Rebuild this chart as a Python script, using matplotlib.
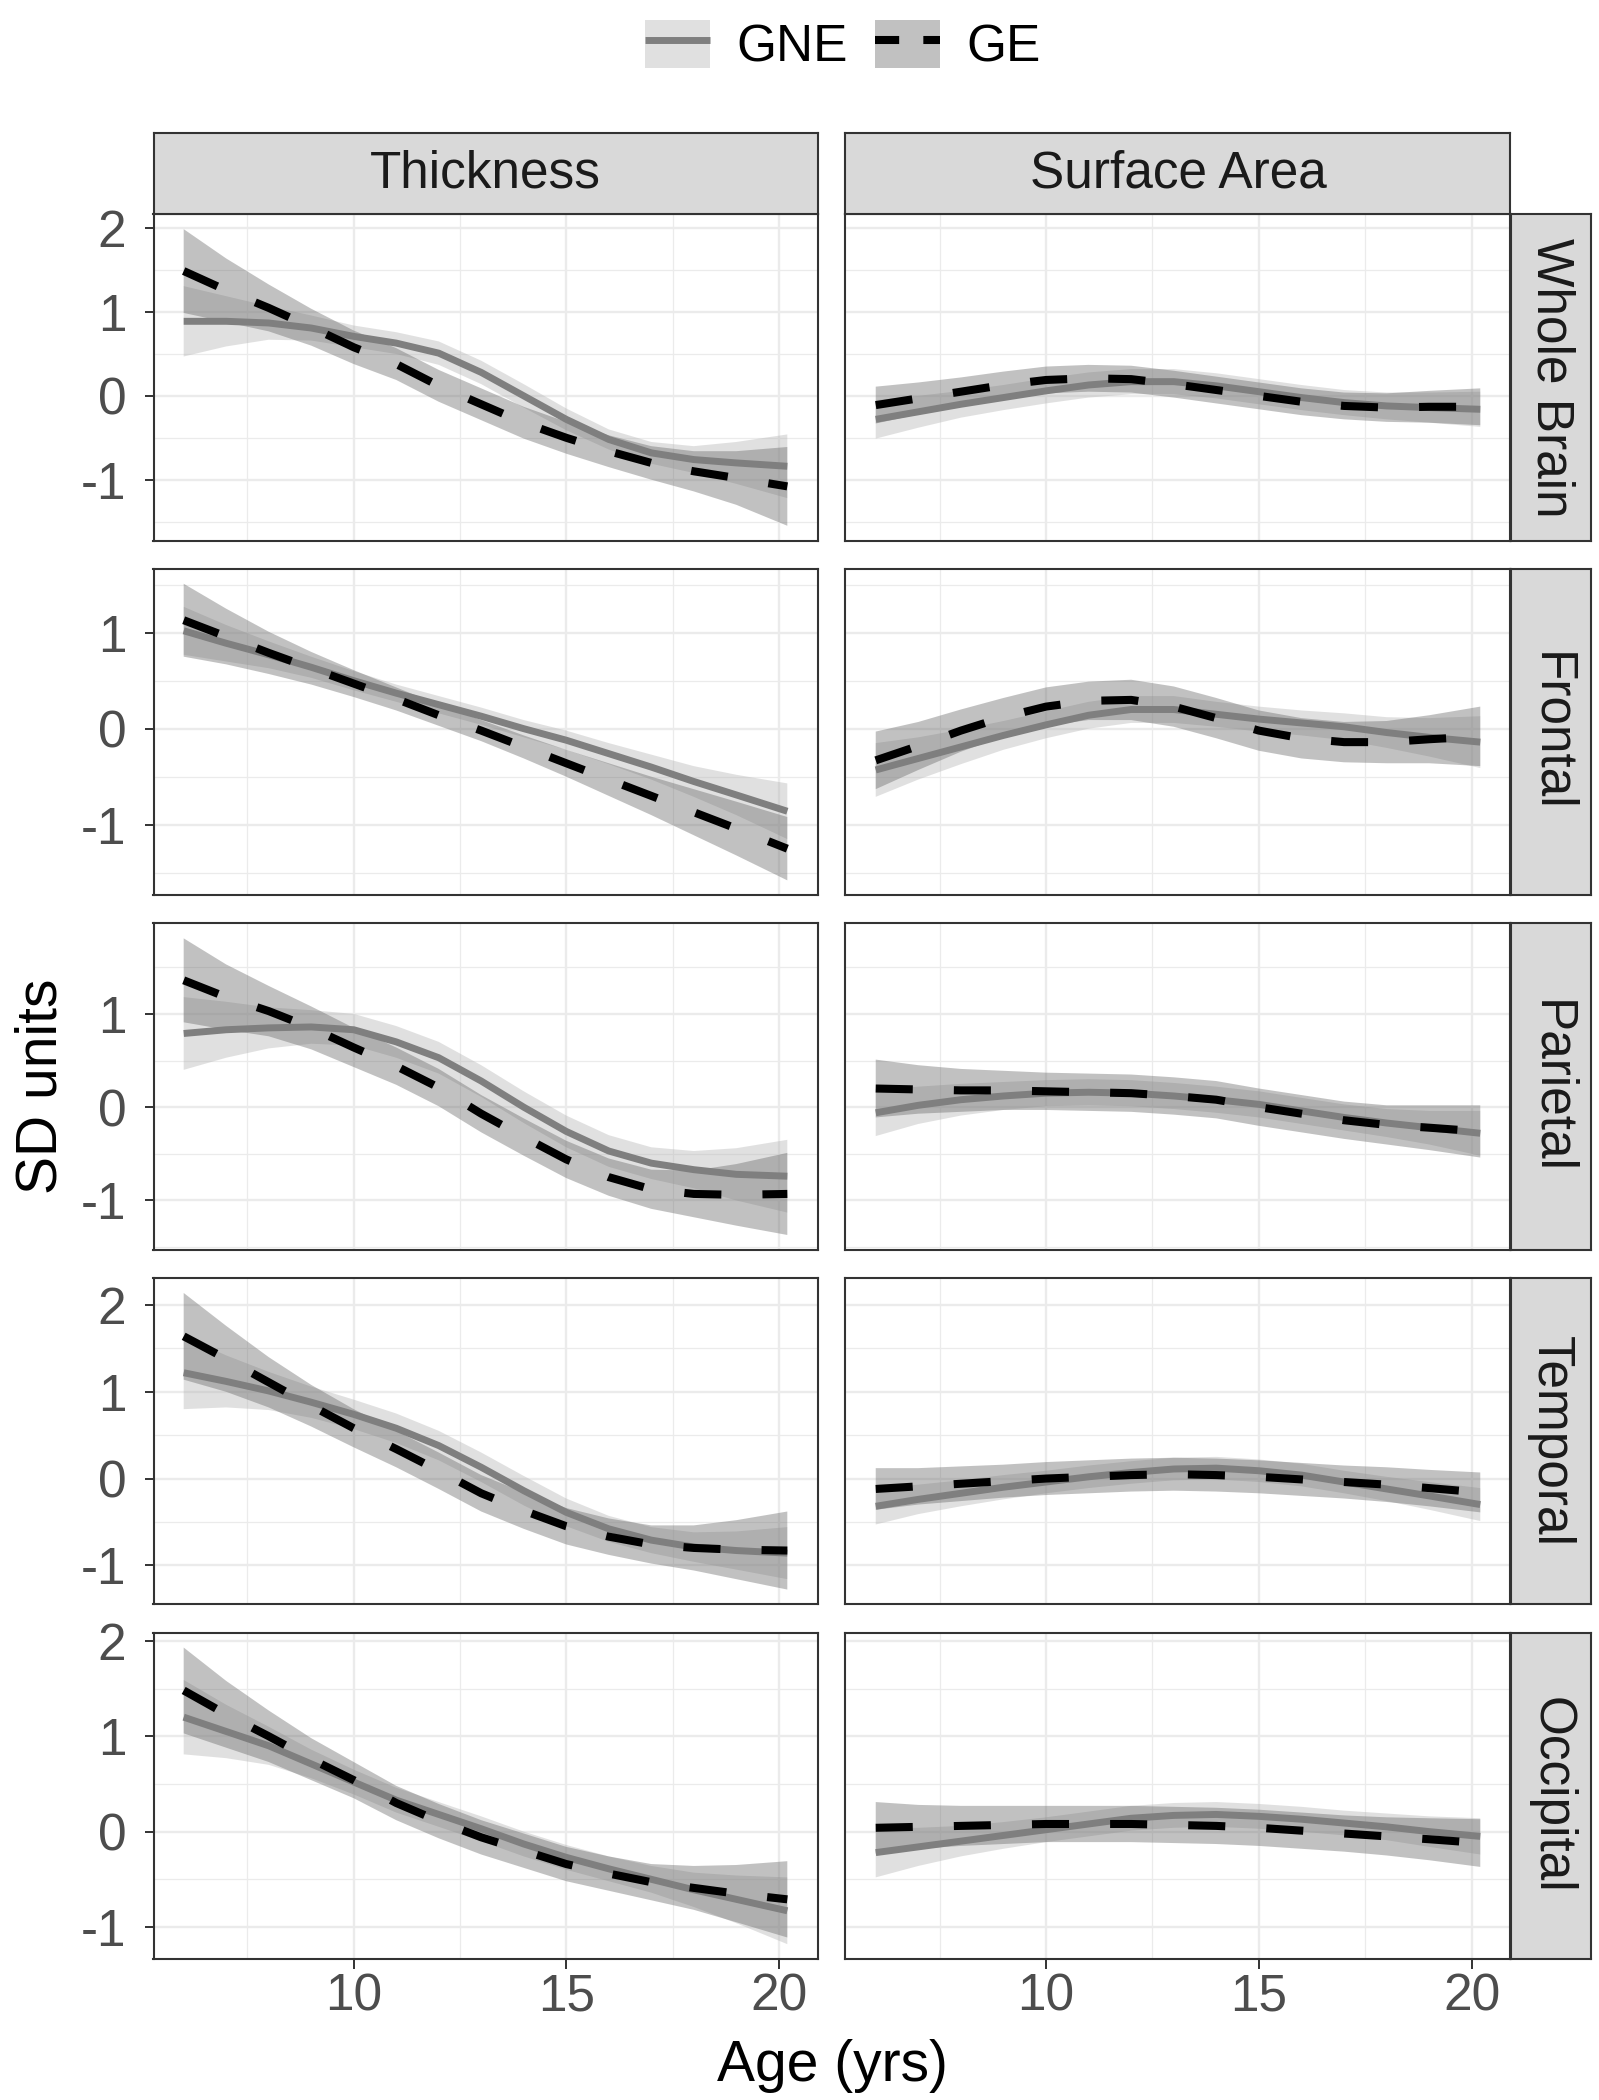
import matplotlib
matplotlib.use("Agg")
import matplotlib.pyplot as plt
from matplotlib.lines import Line2D
from matplotlib.patches import Patch
from matplotlib.ticker import MultipleLocator

plt.rcParams["font.family"] = ["Liberation Sans", "DejaVu Sans"]
plt.rcParams["axes.unicode_minus"] = False

# ── Data: smoothed trajectories (fit) and CI half-widths ──────────────────────
AGES = [6, 7, 8, 9, 10, 11, 12, 13, 14, 15, 16, 17, 18, 19, 20.2]
REGIONS = ["Whole Brain", "Frontal", "Parietal", "Temporal", "Occipital"]
MEASURES = ["Thickness", "Surface Area"]
GROUPS = ["GNE", "GE"]

wb_thk_gne_fit = [0.89, 0.89, 0.87, 0.81, 0.71, 0.63, 0.51, 0.28, 0.0, -0.28, -0.52, -0.68, -0.76, -0.80, -0.84]
wb_thk_gne_ci  = [0.42, 0.30, 0.20, 0.15, 0.13, 0.13, 0.14, 0.14, 0.14, 0.13, 0.12, 0.13, 0.16, 0.25, 0.38]
wb_thk_ge_fit  = [1.49, 1.26, 1.05, 0.82, 0.58, 0.38, 0.12, -0.10, -0.32, -0.50, -0.66, -0.80, -0.90, -0.98, -1.08]
wb_thk_ge_ci   = [0.50, 0.38, 0.28, 0.22, 0.20, 0.19, 0.19, 0.19, 0.19, 0.19, 0.19, 0.20, 0.24, 0.32, 0.47]

wb_sa_gne_fit = [-0.28, -0.19, -0.10, -0.02, 0.06, 0.13, 0.17, 0.17, 0.12, 0.05, -0.02, -0.08, -0.12, -0.14, -0.16]
wb_sa_gne_ci  = [0.23, 0.19, 0.16, 0.15, 0.15, 0.15, 0.15, 0.15, 0.15, 0.15, 0.15, 0.15, 0.16, 0.18, 0.21]
wb_sa_ge_fit  = [-0.11, -0.03, 0.05, 0.13, 0.19, 0.21, 0.20, 0.14, 0.07, 0.0, -0.07, -0.12, -0.14, -0.13, -0.13]
wb_sa_ge_ci   = [0.22, 0.19, 0.17, 0.16, 0.16, 0.16, 0.16, 0.16, 0.16, 0.16, 0.16, 0.16, 0.17, 0.19, 0.22]

fr_thk_gne_fit = [1.02, 0.89, 0.77, 0.64, 0.50, 0.37, 0.25, 0.13, 0.0, -0.12, -0.26, -0.40, -0.55, -0.69, -0.86]
fr_thk_gne_ci  = [0.25, 0.19, 0.14, 0.11, 0.10, 0.09, 0.09, 0.09, 0.09, 0.10, 0.11, 0.13, 0.16, 0.21, 0.29]
fr_thk_ge_fit  = [1.13, 0.96, 0.79, 0.63, 0.47, 0.31, 0.14, -0.02, -0.19, -0.36, -0.53, -0.70, -0.87, -1.04, -1.25]
fr_thk_ge_ci   = [0.38, 0.29, 0.22, 0.17, 0.14, 0.12, 0.11, 0.11, 0.12, 0.14, 0.17, 0.20, 0.24, 0.28, 0.33]

fr_sa_gne_fit = [-0.43, -0.31, -0.19, -0.07, 0.04, 0.14, 0.20, 0.20, 0.15, 0.10, 0.06, 0.02, -0.04, -0.09, -0.14]
fr_sa_gne_ci  = [0.28, 0.22, 0.18, 0.15, 0.14, 0.14, 0.14, 0.14, 0.13, 0.13, 0.13, 0.14, 0.16, 0.20, 0.27]
fr_sa_ge_fit  = [-0.33, -0.18, -0.02, 0.12, 0.23, 0.29, 0.30, 0.23, 0.11, -0.02, -0.10, -0.14, -0.14, -0.11, -0.08]
fr_sa_ge_ci   = [0.30, 0.25, 0.22, 0.20, 0.20, 0.20, 0.21, 0.21, 0.21, 0.21, 0.21, 0.21, 0.22, 0.25, 0.31]

pa_thk_gne_fit = [0.79, 0.83, 0.85, 0.86, 0.83, 0.70, 0.53, 0.28, 0.0, -0.26, -0.47, -0.60, -0.67, -0.72, -0.74]
pa_thk_gne_ci  = [0.39, 0.30, 0.22, 0.18, 0.17, 0.17, 0.17, 0.17, 0.17, 0.17, 0.17, 0.17, 0.20, 0.28, 0.39]
pa_thk_ge_fit  = [1.36, 1.18, 1.03, 0.85, 0.64, 0.44, 0.21, -0.07, -0.32, -0.56, -0.75, -0.88, -0.93, -0.94, -0.93]
pa_thk_ge_ci   = [0.45, 0.35, 0.27, 0.23, 0.21, 0.20, 0.20, 0.20, 0.20, 0.20, 0.20, 0.21, 0.25, 0.33, 0.44]

pa_sa_gne_fit = [-0.06, 0.02, 0.08, 0.12, 0.15, 0.16, 0.15, 0.12, 0.08, 0.03, -0.04, -0.11, -0.17, -0.22, -0.28]
pa_sa_gne_ci  = [0.25, 0.20, 0.17, 0.15, 0.14, 0.14, 0.14, 0.14, 0.14, 0.14, 0.14, 0.14, 0.15, 0.18, 0.24]
pa_sa_ge_fit  = [0.20, 0.19, 0.18, 0.18, 0.17, 0.16, 0.15, 0.12, 0.08, 0.0, -0.07, -0.14, -0.19, -0.22, -0.26]
pa_sa_ge_ci   = [0.31, 0.26, 0.23, 0.21, 0.20, 0.20, 0.20, 0.20, 0.20, 0.20, 0.20, 0.20, 0.21, 0.24, 0.28]

te_thk_gne_fit = [1.22, 1.12, 1.01, 0.88, 0.74, 0.58, 0.38, 0.13, -0.14, -0.39, -0.58, -0.71, -0.79, -0.83, -0.86]
te_thk_gne_ci  = [0.42, 0.30, 0.22, 0.18, 0.17, 0.17, 0.17, 0.17, 0.17, 0.16, 0.15, 0.15, 0.17, 0.22, 0.30]
te_thk_ge_fit  = [1.64, 1.38, 1.11, 0.84, 0.58, 0.34, 0.09, -0.17, -0.37, -0.55, -0.67, -0.76, -0.80, -0.82, -0.83]
te_thk_ge_ci   = [0.50, 0.38, 0.29, 0.24, 0.22, 0.21, 0.21, 0.21, 0.21, 0.21, 0.21, 0.22, 0.26, 0.34, 0.45]

te_sa_gne_fit = [-0.32, -0.24, -0.17, -0.10, -0.04, 0.02, 0.07, 0.11, 0.12, 0.09, 0.04, -0.04, -0.12, -0.20, -0.30]
te_sa_gne_ci  = [0.21, 0.17, 0.15, 0.14, 0.13, 0.13, 0.13, 0.13, 0.13, 0.13, 0.13, 0.13, 0.14, 0.16, 0.19]
te_sa_ge_fit  = [-0.12, -0.09, -0.06, -0.03, 0.0, 0.02, 0.04, 0.05, 0.04, 0.02, -0.01, -0.04, -0.07, -0.11, -0.16]
te_sa_ge_ci   = [0.24, 0.21, 0.20, 0.19, 0.19, 0.19, 0.19, 0.19, 0.19, 0.19, 0.19, 0.19, 0.20, 0.21, 0.23]

oc_thk_gne_fit = [1.20, 1.05, 0.90, 0.71, 0.52, 0.33, 0.18, 0.03, -0.13, -0.27, -0.39, -0.50, -0.61, -0.71, -0.83]
oc_thk_gne_ci  = [0.39, 0.28, 0.20, 0.15, 0.13, 0.13, 0.13, 0.13, 0.13, 0.13, 0.13, 0.14, 0.18, 0.25, 0.35]
oc_thk_ge_fit  = [1.48, 1.23, 1.00, 0.76, 0.54, 0.30, 0.11, -0.06, -0.20, -0.34, -0.44, -0.53, -0.59, -0.65, -0.71]
oc_thk_ge_ci   = [0.45, 0.35, 0.27, 0.22, 0.19, 0.18, 0.18, 0.18, 0.18, 0.18, 0.18, 0.19, 0.23, 0.30, 0.40]

oc_sa_gne_fit = [-0.22, -0.16, -0.10, -0.04, 0.02, 0.08, 0.14, 0.17, 0.18, 0.16, 0.13, 0.09, 0.05, 0.0, -0.05]
oc_sa_gne_ci  = [0.26, 0.20, 0.16, 0.14, 0.13, 0.13, 0.13, 0.13, 0.13, 0.13, 0.13, 0.13, 0.14, 0.16, 0.19]
oc_sa_ge_fit  = [0.04, 0.05, 0.06, 0.07, 0.08, 0.08, 0.08, 0.07, 0.06, 0.04, 0.01, -0.02, -0.05, -0.08, -0.12]
oc_sa_ge_ci   = [0.27, 0.23, 0.21, 0.20, 0.19, 0.19, 0.19, 0.19, 0.19, 0.19, 0.19, 0.19, 0.20, 0.22, 0.25]

# (region, measure) -> {group: (fit, ci)}
PANELS = {
    ("Whole Brain", "Thickness"):    {"GNE": (wb_thk_gne_fit, wb_thk_gne_ci), "GE": (wb_thk_ge_fit, wb_thk_ge_ci)},
    ("Whole Brain", "Surface Area"): {"GNE": (wb_sa_gne_fit, wb_sa_gne_ci),   "GE": (wb_sa_ge_fit, wb_sa_ge_ci)},
    ("Frontal", "Thickness"):        {"GNE": (fr_thk_gne_fit, fr_thk_gne_ci), "GE": (fr_thk_ge_fit, fr_thk_ge_ci)},
    ("Frontal", "Surface Area"):     {"GNE": (fr_sa_gne_fit, fr_sa_gne_ci),   "GE": (fr_sa_ge_fit, fr_sa_ge_ci)},
    ("Parietal", "Thickness"):       {"GNE": (pa_thk_gne_fit, pa_thk_gne_ci), "GE": (pa_thk_ge_fit, pa_thk_ge_ci)},
    ("Parietal", "Surface Area"):    {"GNE": (pa_sa_gne_fit, pa_sa_gne_ci),   "GE": (pa_sa_ge_fit, pa_sa_ge_ci)},
    ("Temporal", "Thickness"):       {"GNE": (te_thk_gne_fit, te_thk_gne_ci), "GE": (te_thk_ge_fit, te_thk_ge_ci)},
    ("Temporal", "Surface Area"):    {"GNE": (te_sa_gne_fit, te_sa_gne_ci),   "GE": (te_sa_ge_fit, te_sa_ge_ci)},
    ("Occipital", "Thickness"):      {"GNE": (oc_thk_gne_fit, oc_thk_gne_ci), "GE": (oc_thk_ge_fit, oc_thk_ge_ci)},
    ("Occipital", "Surface Area"):   {"GNE": (oc_sa_gne_fit, oc_sa_gne_ci),   "GE": (oc_sa_ge_fit, oc_sa_ge_ci)},
}

# ── Style ─────────────────────────────────────────────────────────────────────
STYLE = {
    "GNE": dict(fill="#B3B3B3", line="#7F7F7F", lw=5.0, dashes=None),
    "GE":  dict(fill="#666666", line="#000000", lw=5.8, dashes=(4.6, 5.1)),
}
RIBBON_ALPHA = 0.4
BORDER = "#333333"
GRID = "#EBEBEB"
STRIP_BG = "#D9D9D9"
FS = 37

W, H = 1599, 2100
fig = plt.figure(figsize=(W / 100, H / 100), dpi=100)


def px_axes(x0, y0, x1, y1):
    """Axes from pixel box given with top-left origin."""
    return fig.add_axes([x0 / W, 1 - y1 / H, (x1 - x0) / W, (y1 - y0) / H])


COL_X = [(153.5, 817.5), (845.5, 1510.5)]
ROW_TOP0, ROW_H, ROW_STEP = 214.3, 326.3, 354.6
STRIP_H, STRIP_W = 81.6, 80.5

x_lo, x_hi = min(AGES), max(AGES)
x_pad = 0.05 * (x_hi - x_lo)

for i, region in enumerate(REGIONS):
    top = ROW_TOP0 + i * ROW_STEP
    bot = top + ROW_H

    # shared free y-range per row (ggplot-like 5% expansion)
    lows, highs = [], []
    for m in MEASURES:
        for g in GROUPS:
            fit, ci = PANELS[(region, m)][g]
            lows += [f - c for f, c in zip(fit, ci)]
            highs += [f + c for f, c in zip(fit, ci)]
    y_lo, y_hi = min(lows), max(highs)
    y_pad = 0.05 * (y_hi - y_lo)

    for j, measure in enumerate(MEASURES):
        x0, x1 = COL_X[j]
        ax = px_axes(x0, top, x1, bot)
        for g in GROUPS:
            fit, ci = PANELS[(region, measure)][g]
            st = STYLE[g]
            ax.fill_between(AGES, [f - c for f, c in zip(fit, ci)], [f + c for f, c in zip(fit, ci)],
                            facecolor=st["fill"], alpha=RIBBON_ALPHA, linewidth=0, zorder=2)
            line, = ax.plot(AGES, fit, color=st["line"], lw=st["lw"],
                            solid_capstyle="butt", dash_capstyle="butt", zorder=3)
            if st["dashes"]:
                line.set_dashes(st["dashes"])

        ax.set_xlim(x_lo - x_pad, x_hi + x_pad)
        ax.set_ylim(y_lo - y_pad, y_hi + y_pad)
        ax.xaxis.set_major_locator(MultipleLocator(5))
        ax.xaxis.set_minor_locator(MultipleLocator(2.5))
        ax.yaxis.set_major_locator(MultipleLocator(1))
        ax.yaxis.set_minor_locator(MultipleLocator(0.5))
        ax.grid(True, which="major", color=GRID, lw=1.7, zorder=0)
        ax.grid(True, which="minor", color=GRID, lw=0.9, zorder=0)
        ax.set_axisbelow(True)
        for sp in ax.spines.values():
            sp.set_color(BORDER)
            sp.set_linewidth(1.5)

        ax.tick_params(which="minor", length=0)
        ax.tick_params(axis="y", which="major", length=6.5, width=1.4, color=BORDER,
                       labelsize=FS, labelcolor="#4D4D4D", pad=13)
        ax.tick_params(axis="x", which="major", length=7, width=1.4, color=BORDER,
                       labelsize=FS, labelcolor="#4D4D4D", pad=3)
        ax.yaxis.set_major_formatter(plt.FuncFormatter(lambda v, p: f"{v:g}"))
        if j > 0:
            ax.tick_params(axis="y", which="major", length=0, labelleft=False)
        if i < len(REGIONS) - 1:
            ax.tick_params(axis="x", which="major", length=0, labelbottom=False)

        # column strip on top row
        if i == 0:
            sax = px_axes(x0, top - STRIP_H, x1, top)
            sax.set_facecolor(STRIP_BG)
            sax.set_xticks([])
            sax.set_yticks([])
            for sp in sax.spines.values():
                sp.set_color(BORDER)
                sp.set_linewidth(1.5)
            sax.text(0.5, 0.5, measure, ha="center", va="center", fontsize=FS,
                     color="#1A1A1A", transform=sax.transAxes)

    # row strip on the right
    rx = COL_X[1][1]
    rax = px_axes(rx, top, rx + STRIP_W, bot)
    rax.set_facecolor(STRIP_BG)
    rax.set_xticks([])
    rax.set_yticks([])
    for sp in rax.spines.values():
        sp.set_color(BORDER)
        sp.set_linewidth(1.5)
    rax.text(0.5, 0.5, region, ha="center", va="center", rotation=-90, fontsize=FS,
             color="#1A1A1A", transform=rax.transAxes)

# ── Axis titles ───────────────────────────────────────────────────────────────
fig.text(832 / W, 1 - 2066 / H, "Age (yrs)", ha="center", va="center", fontsize=41, color="black")
fig.text(42 / W, 1 - 1086 / H, "SD units", ha="center", va="center", rotation=90, fontsize=41, color="black")

# ── Legend ────────────────────────────────────────────────────────────────────
handles = []
for g in GROUPS:
    st = STYLE[g]
    patch = Patch(facecolor=st["fill"], alpha=RIBBON_ALPHA, edgecolor="none")
    key_line = Line2D([], [], color=st["line"], lw=st["lw"], solid_capstyle="butt")
    if st["dashes"]:
        key_line.set_dashes((3.0, 3.0))
    handles.append((patch, key_line))

fig.legend(handles, GROUPS, loc="center", bbox_to_anchor=(843 / W, 1 - 46 / H), ncol=2,
           frameon=False, fontsize=FS, handlelength=1.26, handleheight=1.07,
           handletextpad=0.52, columnspacing=0.52)

fig.savefig("out.png", dpi=100)
